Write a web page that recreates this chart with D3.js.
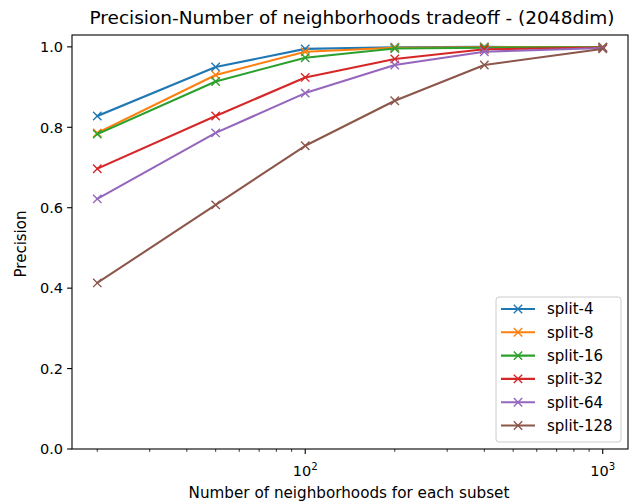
<!DOCTYPE html>
<html>
<head>
<meta charset="utf-8">
<script src="https://cdn.jsdelivr.net/npm/d3@7"></script>
<style>
  body { margin: 0; background: #fff; }
  svg { font-family: "DejaVu Sans", sans-serif; }
</style>
</head>
<body>
<svg id="chart" width="630" height="503"></svg>
<script>
// neighborhoods per subset
const xVals = [20, 50, 100, 200, 400, 1000]
const seriesNames = ['split-4', 'split-8', 'split-16', 'split-32', 'split-64', 'split-128']
const split4 = [0.828, 0.950, 0.995, 0.999, 1.000, 0.999]
const split8 = [0.786, 0.930, 0.988, 0.998, 0.999, 0.999]
const split16 = [0.783, 0.914, 0.973, 0.996, 0.998, 0.999]
const split32 = [0.697, 0.828, 0.924, 0.970, 0.994, 0.998]
const split64 = [0.622, 0.786, 0.885, 0.955, 0.988, 0.997]
const split128 = [0.413, 0.607, 0.754, 0.866, 0.955, 0.995]
const yTicks = [0.0, 0.2, 0.4, 0.6, 0.8, 1.0]
const colors = ['#1f77b4', '#ff7f0e', '#2ca02c', '#d62728', '#9467bd', '#8c564b']

const series = [split4, split8, split16, split32, split64, split128]

const svg = d3.select('#chart')
const axL = 72, axR = 628, axT = 35, axB = 449

// matplotlib style 5% margins on log axis
const lx0 = Math.log10(20), lx1 = Math.log10(1000), pad = (lx1 - lx0) * 0.05
const x = d3.scaleLog().domain([Math.pow(10, lx0 - pad), Math.pow(10, lx1 + pad)]).range([axL, axR])
const y = d3.scaleLinear().domain([0, 1.0295]).range([axB, axT])

// lines + markers
const line = d3.line().x((d, i) => x(xVals[i])).y(d => y(d))
series.forEach((vals, k) => {
    svg.append('path')
        .attr('d', line(vals))
        .attr('fill', 'none')
        .attr('stroke', colors[k])
        .attr('stroke-width', 2.08)
        .attr('stroke-linejoin', 'round')
        .attr('stroke-linecap', 'square')
    const m = 4.2
    svg.append('g').selectAll('path')
        .data(vals)
        .enter()
        .append('path')
        .attr('d', (d, i) => {
            const cx = x(xVals[i]), cy = y(d)
            return `M${cx - m},${cy - m}L${cx + m},${cy + m}M${cx - m},${cy + m}L${cx + m},${cy - m}`
        })
        .attr('stroke', colors[k])
        .attr('stroke-width', 1.39)
})

// frame
svg.append('rect')
    .attr('x', axL).attr('y', axT)
    .attr('width', axR - axL).attr('height', axB - axT)
    .attr('fill', 'none').attr('stroke', '#000').attr('stroke-width', 1.1)

// x axis, log ticks
const majors = [100, 1000]
const minors = []
for (let d = 10; d <= 1000; d *= 10) {
    for (let j = 2; j <= 9; j++) {
        const v = d * j
        if (v >= x.domain()[0] && v <= x.domain()[1]) minors.push(v)
    }
}
const xa = svg.append('g')
xa.selectAll('.minor').data(minors).enter().append('line')
    .attr('x1', d => x(d)).attr('x2', d => x(d))
    .attr('y1', axB).attr('y2', axB + 2.8)
    .attr('stroke', '#000').attr('stroke-width', 0.8)
xa.selectAll('.major').data(majors).enter().append('line')
    .attr('x1', d => x(d)).attr('x2', d => x(d))
    .attr('y1', axB).attr('y2', axB + 4.9)
    .attr('stroke', '#000').attr('stroke-width', 1.1)
const xl = xa.selectAll('.lab').data(majors).enter().append('text')
    .attr('x', d => x(d)).attr('y', axB + 27)
    .attr('text-anchor', 'middle')
    .attr('font-size', 14.5)
    .attr('fill', '#000')
xl.append('tspan').text('10')
xl.append('tspan').attr('dy', -6.5).attr('font-size', 10.2).text(d => Math.round(Math.log10(d)))

// y axis
const ya = svg.append('g')
ya.selectAll('line').data(yTicks).enter().append('line')
    .attr('x1', axL - 4.9).attr('x2', axL)
    .attr('y1', d => y(d)).attr('y2', d => y(d))
    .attr('stroke', '#000').attr('stroke-width', 1.1)
ya.selectAll('text').data(yTicks).enter().append('text')
    .attr('x', axL - 9).attr('y', d => y(d) + 5.3)
    .attr('text-anchor', 'end')
    .attr('font-size', 14.5)
    .text(d => d.toFixed(1))

// labels
svg.append('text')
    .attr('x', (axL + axR) / 2 + 2).attr('y', 24)
    .attr('text-anchor', 'middle').attr('font-size', 18.5)
    .text('Precision-Number of neighborhoods tradeoff - (2048dim)')
svg.append('text')
    .attr('x', (axL + axR) / 2 - 1).attr('y', 498)
    .attr('text-anchor', 'middle').attr('font-size', 15.2)
    .text('Number of neighborhoods for each subset')
svg.append('text')
    .attr('transform', `translate(26,${(axT + axB) / 2 + 2}) rotate(-90)`)
    .attr('text-anchor', 'middle').attr('font-size', 15)
    .text('Precision')

// legend
const lg = svg.append('g').attr('transform', 'translate(496,297)')
lg.append('rect')
    .attr('width', 125).attr('height', 145)
    .attr('rx', 3)
    .attr('fill', '#fff').attr('fill-opacity', 0.8)
    .attr('stroke', '#ccc').attr('stroke-width', 1)
seriesNames.forEach((name, k) => {
    const yy = 12 + k * 23.3
    lg.append('line')
        .attr('x1', 5).attr('x2', 39).attr('y1', yy).attr('y2', yy)
        .attr('stroke', colors[k]).attr('stroke-width', 2.08)
    const cx = 22, m = 4.2
    lg.append('path')
        .attr('d', `M${cx - m},${yy - m}L${cx + m},${yy + m}M${cx - m},${yy + m}L${cx + m},${yy - m}`)
        .attr('stroke', colors[k]).attr('stroke-width', 1.39)
    lg.append('text')
        .attr('x', 51).attr('y', yy + 5.3)
        .attr('font-size', 15)
        .text(name)
})
</script>
</body>
</html>
